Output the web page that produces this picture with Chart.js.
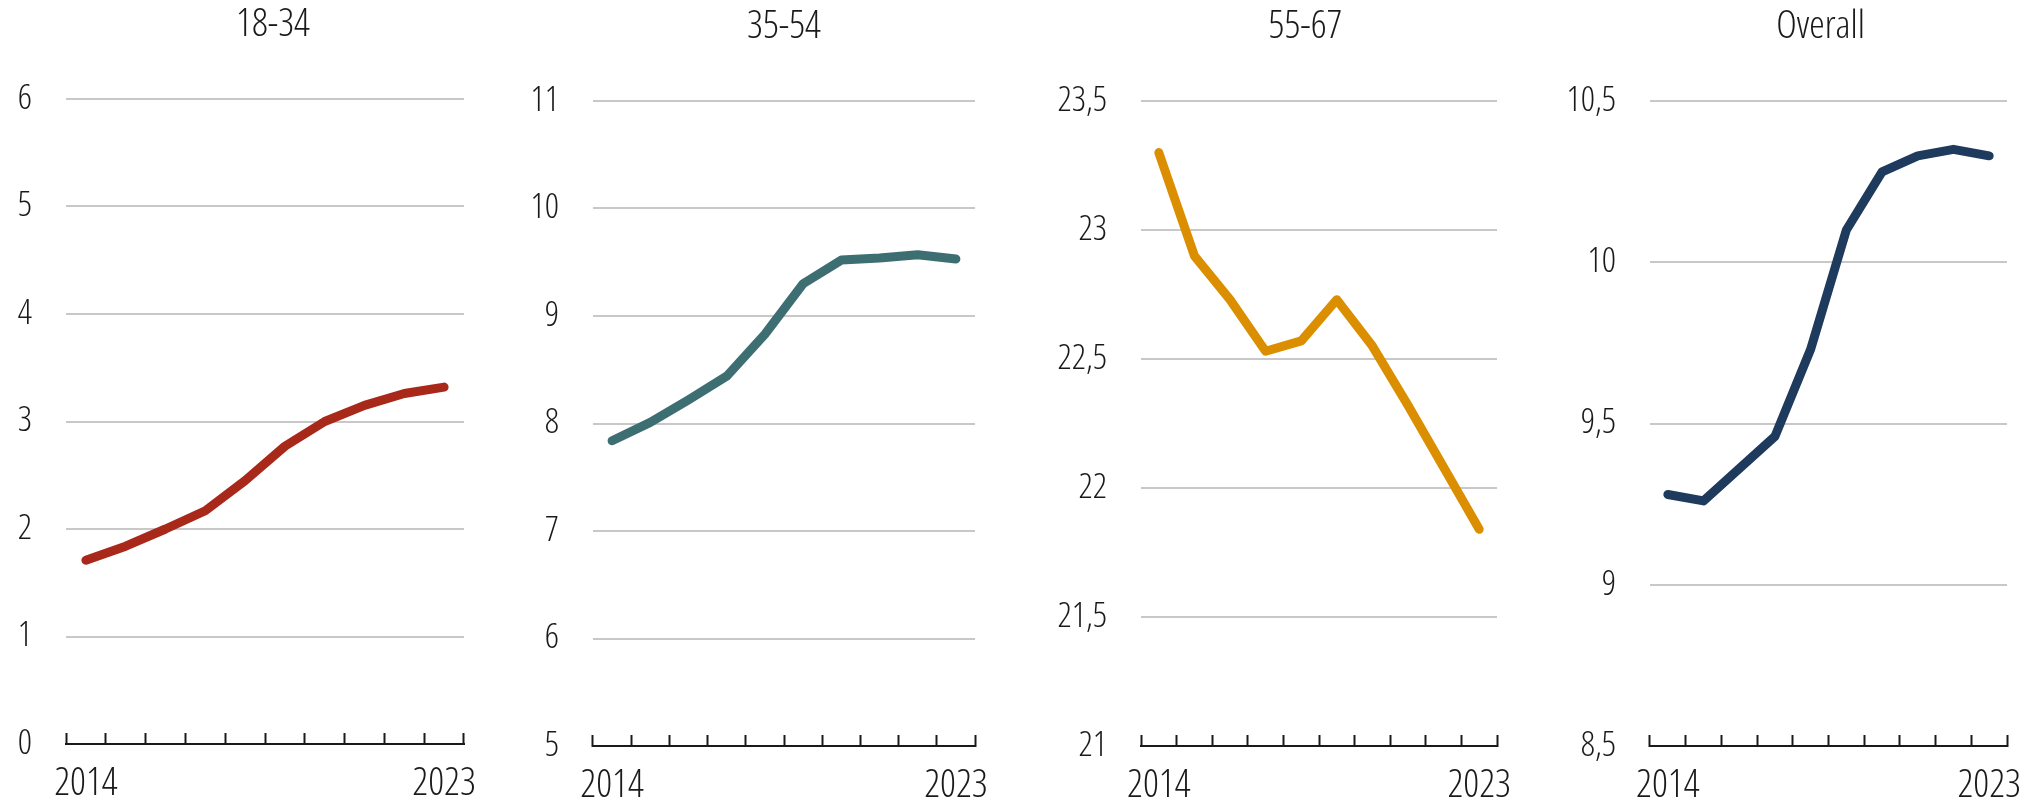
<!DOCTYPE html>
<html><head><meta charset="utf-8">
<script src="https://cdn.jsdelivr.net/npm/chart.js@4.4.1/dist/chart.umd.min.js"></script>
<style>
html,body{margin:0;padding:0;background:#fff;overflow:hidden;width:2036px;height:801px;position:relative}
.p{position:absolute;height:801px}
</style></head><body>
<div class="p" id="w0"><canvas id="c0"></canvas></div>
<div class="p" id="w1"><canvas id="c1"></canvas></div>
<div class="p" id="w2"><canvas id="c2"></canvas></div>
<div class="p" id="w3"><canvas id="c3"></canvas></div>
<script>
// ---- data ----
const years = ['2014','2015','2016','2017','2018','2019','2020','2021','2022','2023'];
const titles = ['18-34','35-54','55-67','Overall'];
const age1834 = [1.71,1.84,2.00,2.17,2.45,2.77,3.00,3.15,3.26,3.32];
const age3554 = [7.84,8.01,8.22,8.44,8.83,9.30,9.52,9.54,9.57,9.53];
const age5567 = [23.30,22.90,22.73,22.53,22.57,22.73,22.55,22.32,22.08,21.84];
const overall = [9.28,9.26,9.36,9.46,9.73,10.10,10.28,10.33,10.35,10.33];
const yMins = [0,5,21,8.5];
const yMaxs = [6,11,23.5,10.5];
const ySteps = [1,1,0.5,0.5];
const seriesList = [age1834, age3554, age5567, overall];

// ---- styles / layout ----
const colors = ['#a8281a','#3d6e72','#db8f00','#1e3a5c'];
const layouts = [
  {left:0,    top:-2, width:546, yw:66, rw:82},
  {left:493,  top:0,  width:582, yw:100, rw:100},
  {left:1041, top:0,  width:529, yw:100, rw:73},
  {left:1555, top:0,  width:531, yw:95, rw:79}
];
const FAM = "'Open Sans', Roboto, sans-serif";
const WEIGHT = '300 condensed';

function fmt(v){ return String(v).replace('.', ','); }

seriesList.forEach((data, i) => {
  const L = layouts[i];
  const wrap = document.getElementById('w'+i);
  wrap.style.left = L.left + 'px';
  wrap.style.top = L.top + 'px';
  wrap.style.width = L.width + 'px';
  const cv = document.getElementById('c'+i);
  cv.width = L.width; cv.height = 801;
  cv.style.width = L.width+'px'; cv.style.height='801px';
  new Chart(cv, {
    type: 'line',
    data: {
      labels: years,
      datasets: [{
        data: data,
        borderColor: colors[i],
        borderWidth: 9,
        pointRadius: 0,
        tension: 0,
        borderCapStyle: 'round',
        borderJoinStyle: 'round',
        clip: false,
        yAxisID: 'y'
      }]
    },
    options: {
      responsive: false,
      animation: false,
      devicePixelRatio: 1,
      layout: {padding: 0},
      plugins: {
        legend: {display: false},
        tooltip: {enabled: false},
        title: {
          display: true,
          text: titles[i],
          color: '#1a1a1a',
          font: {family: FAM, size: 39, weight: WEIGHT, lineHeight: 1.2},
          padding: {top: 3.5, bottom: 50.7}
        }
      },
      scales: {
        x: {
          type: 'category',
          offset: true,
          grid: {
            display: true,
            offset: true,
            drawOnChartArea: false,
            drawTicks: true,
            tickLength: -11,
            tickWidth: 2,
            tickColor: '#1a1a1a',
            color: '#1a1a1a'
          },
          border: {display: true, color: '#1a1a1a', width: 2},
          ticks: {
            autoSkip: false,
            maxRotation: 0,
            minRotation: 0,
            padding: 27.3,
            color: '#1a1a1a',
            font: {family: FAM, size: 39, weight: WEIGHT},
            callback: function(v, idx, arr){ return (idx === 0 || idx === arr.length-1) ? this.getLabelForValue(v) : ''; }
          },
          afterFit: s => { s.height = 52; }
        },
        y: {
          position: 'left',
          min: yMins[i],
          max: yMaxs[i],
          grid: {
            color: c => (c.tick && c.tick.value === yMins[i]) ? 'rgba(0,0,0,0)' : '#c8c8c8',
            lineWidth: 2,
            drawTicks: false
          },
          border: {display: false},
          ticks: {
            stepSize: ySteps[i],
            padding: 34,
            color: '#1a1a1a',
            font: {family: FAM, size: 35, weight: WEIGHT},
            callback: v => fmt(v)
          },
          afterFit: s => { s.width = L.yw; }
        },
        yR: {
          position: 'right',
          display: true,
          grid: {display: false, drawTicks: false},
          border: {display: false},
          ticks: {display: false},
          afterFit: s => { s.width = L.rw; }
        }
      }
    }
  });
});
</script>
</body></html>
